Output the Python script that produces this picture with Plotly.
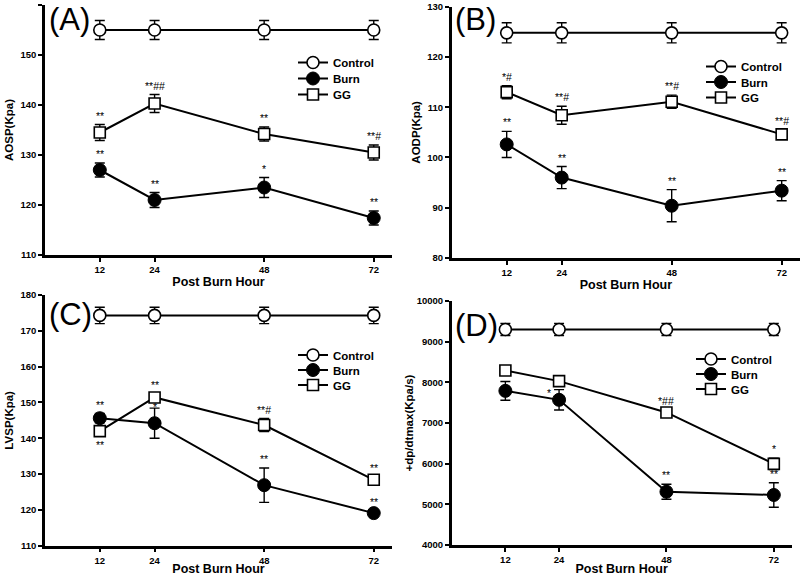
import plotly.graph_objects as go

# ---------------- data ----------------
hours = [12, 24, 48, 72]
hour_ticks = ["12", "24", "48", "72"]
series_names = ["Control", "Burn", "GG"]

# (A) AOSP
A_control = [155, 155, 155, 155]
A_control_err = [1.9, 1.9, 1.9, 1.9]
A_burn = [127.0, 121.0, 123.5, 117.4]
A_burn_err = [1.4, 1.5, 2.0, 1.4]
A_gg = [134.5, 140.3, 134.2, 130.5]
A_gg_err = [1.6, 1.8, 1.4, 1.5]
A_burn_marks = ["**", "**", "*", "**"]
A_gg_marks = ["**", "**##", "**", "**#"]

# (B) AODP
B_control = [124.8, 124.8, 124.8, 124.8]
B_control_err = [2.0, 2.0, 2.0, 2.0]
B_burn = [102.6, 96.0, 90.4, 93.4]
B_burn_err = [2.6, 2.2, 3.2, 2.0]
B_gg = [113.0, 108.4, 111.1, 104.6]
B_gg_err = [1.3, 1.8, 1.3, 0.9]
B_burn_marks = ["**", "**", "**", "**"]
B_gg_marks = ["*#", "**#", "**#", "**#"]

# (C) LVSP
C_control = [174.3, 174.3, 174.3, 174.3]
C_control_err = [2.3, 2.3, 2.3, 2.3]
C_burn = [145.6, 144.2, 126.9, 119.1]
C_burn_err = [1.3, 4.2, 4.8, 0.5]
C_gg = [142.0, 151.4, 143.7, 128.4]
C_gg_err = [1.4, 1.0, 1.8, 0.8]
C_burn_marks = ["**", "*", "**", "**"]
C_gg_marks = ["**", "**", "**#", "**"]
C_gg_side = ["below", "above", "above", "above"]

# (D) +dp/dtmax
D_control = [9300, 9300, 9300, 9300]
D_control_err = [150, 150, 150, 150]
D_burn = [7790, 7570, 5310, 5230]
D_burn_err = [230, 250, 185, 300]
D_gg = [8290, 8030, 7260, 5995]
D_gg_err = [60, 90, 60, 140]
D_burn_marks = ["", "*", "**", "**"]
D_gg_marks = ["", "", "*##", "*"]

panels = [
    dict(key="A", label="(A)", ytitle="AOSP(Kpa)", yrange=[110, 160], dtick=10,
         ctrl=A_control, ctrl_e=A_control_err, burn=A_burn, burn_e=A_burn_err,
         gg=A_gg, gg_e=A_gg_err, bm=A_burn_marks, gm=A_gg_marks, gside=None),
    dict(key="B", label="(B)", ytitle="AODP(Kpa)", yrange=[80, 130], dtick=10,
         ctrl=B_control, ctrl_e=B_control_err, burn=B_burn, burn_e=B_burn_err,
         gg=B_gg, gg_e=B_gg_err, bm=B_burn_marks, gm=B_gg_marks, gside=None),
    dict(key="C", label="(C)", ytitle="LVSP(Kpa)", yrange=[110, 180], dtick=10,
         ctrl=C_control, ctrl_e=C_control_err, burn=C_burn, burn_e=C_burn_err,
         gg=C_gg, gg_e=C_gg_err, bm=C_burn_marks, gm=C_gg_marks, gside=C_gg_side),
    dict(key="D", label="(D)", ytitle="+dp/dtmax(Kpa/s)", yrange=[4000, 10000], dtick=1000,
         ctrl=D_control, ctrl_e=D_control_err, burn=D_burn, burn_e=D_burn_err,
         gg=D_gg, gg_e=D_gg_err, bm=D_burn_marks, gm=D_gg_marks, gside=None),
]

# ---------------- layout geometry (pixels -> paper) ----------------
W, H = 800, 576
FONT = "Liberation Sans, Arial, Helvetica, sans-serif"

def px_x(p):
    return p / W

def px_y(p):
    return 1 - p / H

geom = {
    "A": dict(x=(45, 392), y=(5, 255), xr=[0, 76], label=(47, 19), legx=293,
              rows=(62, 78, 94), ystand=5),
    "B": dict(x=(451.7, 800), y=(6.7, 258), xr=[0, 76], label=(453, 19), legx=701,
              rows=(66, 81.5, 97), ystand=5),
    "C": dict(x=(45, 392), y=(295, 545.7), xr=[0, 76], label=(47, 314), legx=293,
              rows=(354.5, 369.5, 384.5), ystand=5),
    "D": dict(x=(451.7, 791.7), y=(301, 545), xr=[0, 76], label=(453, 325), legx=691,
              rows=(358.5, 373.5, 388.5), ystand=1),
}

special_shift = {("C", "burn", 1): (0, -8), ("D", "burn", 1): (-10, -12)}

fig = go.Figure()
annotations = []
layout_axes = {}

for i, p in enumerate(panels):
    k = p["key"]
    g = geom[k]
    n = i + 1
    xa = "x" if n == 1 else f"x{n}"
    ya = "y" if n == 1 else f"y{n}"

    styles = [
        (series_names[0], p["ctrl"], p["ctrl_e"], dict(symbol="circle", size=12, color="white",
                                                         line=dict(color="black", width=1.6))),
        (series_names[1], p["burn"], p["burn_e"], dict(symbol="circle", size=13, color="black",
                                                         line=dict(color="black", width=1))),
        (series_names[2], p["gg"], p["gg_e"], dict(symbol="square", size=11, color="white",
                                                     line=dict(color="black", width=1.6))),
    ]
    for s, (name, vals, errs, mk) in enumerate(styles):
        idx = i * 3 + s + 1
        leg = "legend" if idx == 1 else f"legend{idx}"
        fig.add_trace(go.Scatter(
            x=hours, y=vals, name=name, mode="lines+markers",
            line=dict(color="black", width=2), marker=mk,
            error_y=dict(type="data", array=errs, visible=True, color="black",
                         thickness=1.4, width=5),
            xaxis=xa, yaxis=ya, legend=leg, showlegend=True, cliponaxis=False,
        ))
        layout_axes[leg] = dict(
            x=px_x(g["legx"]), y=px_y(g["rows"][s] - 14), xanchor="left", yanchor="top",
            bgcolor="rgba(0,0,0,0)", borderwidth=0, itemwidth=30,
            font=dict(family=FONT, size=11.5, color="black", weight="bold"),
        )

    # axes
    layout_axes["xaxis" if n == 1 else f"xaxis{n}"] = dict(
        domain=[px_x(g["x"][0]), px_x(g["x"][1])], range=g["xr"], anchor=ya,
        tickmode="array", tickvals=hours, ticktext=hour_ticks,
        showline=True, linecolor="black", linewidth=2.5, ticks="outside",
        ticklen=4, tickwidth=1.5, tickcolor="black", showgrid=False, zeroline=False,
        automargin=False,
        tickfont=dict(family=FONT, size=9.5, color="black", weight="bold"),
        title=dict(text="Post Burn Hour", standoff=2,
                   font=dict(family=FONT, size=12.5, color="black", weight="bold")),
    )
    layout_axes["yaxis" if n == 1 else f"yaxis{n}"] = dict(
        domain=[px_y(g["y"][1]), px_y(g["y"][0])], range=p["yrange"], anchor=xa,
        dtick=p["dtick"], tick0=p["yrange"][0], tickformat="d",
        showline=True, linecolor="black", linewidth=2.5, ticks="outside",
        ticklen=4, tickwidth=1.5, tickcolor="black", showgrid=False, zeroline=False,
        automargin=False,
        tickfont=dict(family=FONT, size=9.5, color="black", weight="bold"),
        title=dict(text=p["ytitle"], standoff=g["ystand"],
                   font=dict(family=FONT, size=11.5, color="black", weight="bold")),
    )

    # panel label
    annotations.append(dict(
        x=px_x(g["label"][0]), y=px_y(g["label"][1]), xref="paper", yref="paper",
        xanchor="left", yanchor="middle", showarrow=False, text=p["label"],
        font=dict(family=FONT, size=31, color="black"),
    ))

    # significance marks
    for sname, vals, errs, marks, sides in (("burn", p["burn"], p["burn_e"], p["bm"], None),
                                             ("gg", p["gg"], p["gg_e"], p["gm"], p["gside"])):
        for j, m in enumerate(marks):
            if not m:
                continue
            side = sides[j] if sides else "above"
            dx, dy = special_shift.get((k, sname, j), (0, 0))
            if side == "above":
                yv = vals[j] + errs[j]
                ya_anchor = "bottom"
                ysh = 1 + dy
            else:
                yv = vals[j] - errs[j]
                ya_anchor = "top"
                ysh = -1 + dy
            annotations.append(dict(
                x=hours[j], y=yv, xref=xa, yref=ya, showarrow=False, text=m,
                xanchor="center", yanchor=ya_anchor, xshift=dx, yshift=ysh,
                font=dict(family=FONT, size=10.5, color="black"),
            ))

fig.update_layout(
    width=W, height=H, margin=dict(l=0, r=0, t=0, b=0, autoexpand=False),
    paper_bgcolor="white", plot_bgcolor="white",
    annotations=annotations, **layout_axes,
)

fig.write_html(
    "out.html",
    config={"displayModeBar": False},
    post_script="document.body.style.margin='0';document.body.style.padding='0';"
                "document.documentElement.style.overflow='hidden';",
)
